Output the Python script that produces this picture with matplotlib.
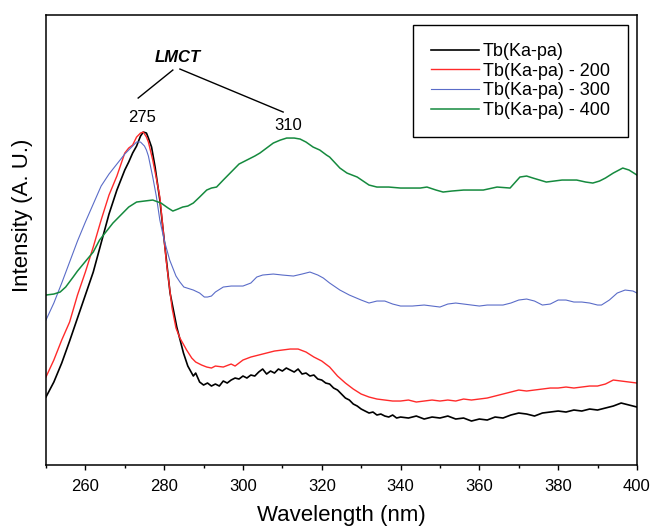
import matplotlib
matplotlib.use("Agg")
import matplotlib.pyplot as plt
from matplotlib.ticker import MultipleLocator

plt.rcParams['font.family'] = ['Liberation Sans', 'DejaVu Sans']

# Tb(Ka-pa)
wl_0 = [250, 252, 254, 256, 258, 260, 262, 264, 266, 268, 270, 271, 272, 273, 274, 274.7,
        275.5, 276, 276.8, 277.7, 278.9, 280.2, 281.5, 283.2, 284.9, 286, 287.4, 288, 289, 290,
        291, 292, 293, 294, 295, 296, 297, 298, 299, 300, 301, 302, 303, 304, 305, 306, 307,
        308, 309, 310, 311, 312, 313, 314, 315, 316, 317, 318, 319, 320, 321, 322, 323, 324,
        325, 326, 327, 328, 329, 330, 331, 332, 333, 334, 335, 336, 337, 338, 339, 340, 342,
        344, 346, 348, 350, 352, 354, 356, 358, 360, 362, 364, 366, 368, 370, 372, 374, 376,
        378, 380, 382, 384, 386, 388, 390, 392, 394, 396, 397, 398, 400]
int_0 = [68, 83, 102, 124, 147, 170, 193, 222, 251, 275, 295, 303, 312, 319, 329, 333,
         332, 327, 318, 298, 265, 218, 172, 138, 112, 99, 89, 92, 83, 80,
         82, 79, 81, 79, 84, 82, 85, 87, 86, 89, 87, 90, 89, 93, 96, 91, 94,
         92, 96, 94, 97, 95, 93, 96, 91, 92, 89, 90, 86, 85, 82, 81, 77, 75,
         71, 67, 65, 61, 59, 56, 54, 52, 53, 50, 51, 49, 48, 50, 47, 48, 47,
         49, 46, 48, 47, 49, 46, 47, 44, 46, 45, 48, 47, 50, 52, 51, 49, 52,
         53, 54, 53, 55, 54, 56, 55, 57, 59, 62, 61, 60, 58]

# Tb(Ka-pa) - 200
wl_200 = [250, 252, 254, 256, 258, 260, 262, 264, 266, 268, 270, 271, 272, 273, 274, 274.7,
          275.5, 276, 277.1, 278, 278.9, 280, 280.5, 282, 283, 284, 285.7, 287, 288, 289.5,
          290.8, 292, 293, 295, 297, 298, 300, 302, 304, 306, 308, 310, 312, 314, 316, 318,
          320, 322, 324, 326, 328, 330, 332, 334, 336, 338, 340, 342, 344, 346, 348, 350,
          352, 354, 356, 358, 360, 362, 364, 366, 368, 370, 372, 374, 376, 378, 380, 382,
          384, 386, 388, 390, 392, 394, 396, 398, 400]
int_200 = [88, 105, 125, 143, 170, 193, 218, 245, 270, 289, 312, 317, 320, 328, 332, 333,
           328, 323, 305, 287, 268, 225, 205, 157, 137, 127, 115, 107, 103, 100,
           98, 97, 99, 98, 101, 99, 105, 108, 110, 112, 114, 115, 116, 116, 113, 108,
           104, 98, 89, 82, 76, 71, 68, 66, 65, 64, 64, 65, 63, 64, 65, 64,
           65, 64, 66, 65, 66, 67, 69, 71, 73, 75, 74, 75, 76, 77, 77, 78,
           77, 78, 79, 79, 81, 85, 84, 83, 82]

# Tb(Ka-pa) - 300
wl_300 = [250, 252, 254, 256, 258, 260, 262, 264, 266, 268, 270, 272, 273, 274, 275, 275.5,
          276, 277.1, 278, 278.9, 280, 281.4, 283, 284, 285, 287.4, 289, 290.2, 291, 292, 293,
          295, 297, 300, 302, 303.5, 305, 307.7, 310, 312.8, 315, 317, 319, 320.4, 322, 324.6,
          327, 330, 332, 334, 336, 338, 340, 343, 346, 348, 350, 352, 354, 356, 358, 360,
          362, 364, 366, 368, 370, 372, 374, 376, 378, 380, 382, 384, 386, 388, 390, 391,
          393, 395, 397, 399, 400]
int_300 = [145, 162, 182, 203, 224, 243, 261, 279, 291, 301, 311, 319, 323, 323, 319, 315,
           309, 288, 269, 245, 225, 205, 189, 183, 178, 175, 172, 168, 168, 169, 173,
           178, 179, 179, 182, 188, 190, 191, 190, 189, 191, 193, 190, 187, 182, 175,
           170, 165, 162, 164, 164, 161, 159, 159, 160, 159, 158, 161, 162, 161, 160, 159,
           160, 160, 160, 162, 165, 166, 164, 160, 161, 165, 165, 163, 163, 162, 160, 160,
           165, 172, 175, 174, 172]

# Tb(Ka-pa) - 400
wl_400 = [250, 252, 253.6, 255, 256.9, 258, 260.3, 262, 263.6, 265, 267, 269.5, 271, 273, 275,
          277.1, 279.2, 281, 282.2, 283.5, 284.7, 286, 287.4, 289, 290.8, 292, 293.3, 295,
          297.5, 299, 301, 303, 304.3, 306, 307.7, 309.5, 311.1, 313, 314.5, 316, 317.8,
          319.5, 321.2, 322, 324.6, 326.4, 329, 332, 334, 337, 340, 343, 345, 346.7, 349,
          350.8, 353, 356, 359, 361, 364.5, 367.8, 370.3, 372, 373.6, 377, 379, 381, 384.7,
          387, 388.8, 390.5, 392, 394, 396.4, 398, 400]
int_400 = [170, 171, 173, 178, 188, 194, 205, 213, 225, 232, 242, 252, 258, 263, 264,
           265, 262, 257, 254, 256, 258, 259, 262, 268, 275, 277, 278, 285,
           295, 301, 305, 309, 312, 317, 322, 325, 327, 327, 326, 323, 318,
           315, 310, 308, 297, 292, 288, 280, 278, 278, 277, 277, 277, 278, 275,
           273, 274, 275, 275, 275, 278, 277, 288, 289, 287, 283, 284, 285, 285,
           283, 282, 284, 287, 292, 297, 295, 290]

series = [
    (wl_0, int_0, 'Tb(Ka-pa)', '#000000', 1.2),
    (wl_200, int_200, 'Tb(Ka-pa) - 200', '#ff2a2a', 1.0),
    (wl_300, int_300, 'Tb(Ka-pa) - 300', '#5a6cc8', 0.8),
    (wl_400, int_400, 'Tb(Ka-pa) - 400', '#158a3e', 1.1),
]

fig = plt.figure(figsize=(6.53, 5.30), dpi=100)
ax = fig.add_axes([0.0704, 0.1226, 0.905, 0.849])

for x, y, lab, col, lw in series:
    ax.plot(x, y, color=col, lw=lw, label=lab)

ax.set_xlim(250, 400)
ax.set_ylim(0, 450)
ax.xaxis.set_major_locator(MultipleLocator(20))
ax.xaxis.set_minor_locator(MultipleLocator(10))
ax.set_yticks([])
ax.tick_params(axis='x', which='major', direction='out', length=3.8, width=1.0,
               labelsize=12, pad=6)
ax.tick_params(axis='x', which='minor', direction='out', length=2.4, width=1.0)
for sp in ax.spines.values():
    sp.set_linewidth(1.1)

ax.set_xlabel('Wavelength (nm)', fontsize=16, labelpad=8)
ax.set_ylabel('Intensity (A. U.)', fontsize=16)
ax.yaxis.set_label_coords(-0.022, 0.555)

# LMCT annotation
ax.text(283.5, 408, 'LMCT', fontsize=12, fontweight='bold', fontstyle='italic',
        ha='center', va='center')
ax.plot([282.2, 273.4], [395, 367], color='black', lw=1.0)
ax.plot([284.0, 310.2], [396, 353], color='black', lw=1.0)
ax.text(274.4, 348, '275', fontsize=12, ha='center', va='center')
ax.text(311.4, 340, '310', fontsize=12, ha='center', va='center')

leg = ax.legend(loc='upper right', bbox_to_anchor=(0.985, 0.978), borderaxespad=0,
                fontsize=13, fancybox=False, edgecolor='black', framealpha=1,
                handlelength=2.7, handletextpad=0.2, borderpad=1.0, labelspacing=0.15)
leg.get_frame().set_linewidth(1.0)

fig.savefig('out.png', dpi=100)
